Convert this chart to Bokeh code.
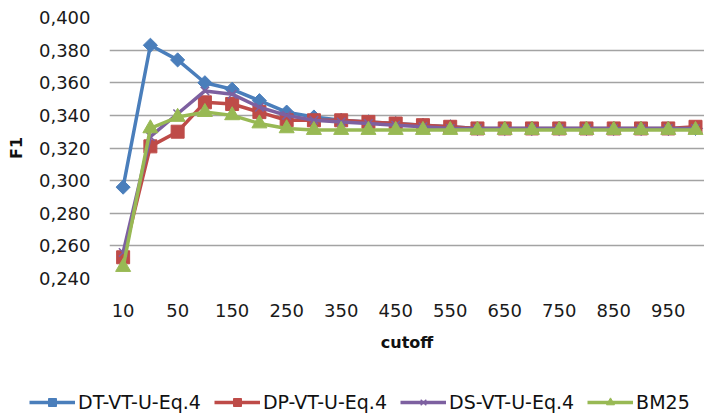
from bokeh.plotting import figure
from bokeh.layouts import column
from bokeh.models import FixedTicker, Legend, LegendItem, Range1d
from bokeh.embed import file_html
from bokeh.resources import INLINE

# ---- data ----
cutoffs = ["10", "30", "50", "100", "150", "200", "250", "300", "350", "400", "450",
           "500", "550", "600", "650", "700", "750", "800", "850", "900", "950", "1000"]
dt_vt = [0.296, 0.383, 0.374, 0.360, 0.356, 0.349, 0.342, 0.339, 0.337, 0.336, 0.335,
         0.334, 0.333, 0.332, 0.332, 0.332, 0.332, 0.332, 0.332, 0.332, 0.332, 0.332]
dp_vt = [0.253, 0.321, 0.330, 0.348, 0.347, 0.342, 0.337, 0.337, 0.337, 0.336, 0.335,
         0.334, 0.333, 0.332, 0.332, 0.332, 0.332, 0.332, 0.332, 0.332, 0.332, 0.333]
ds_vt = [0.256, 0.327, 0.341, 0.355, 0.353, 0.345, 0.340, 0.337, 0.336, 0.335, 0.334,
         0.333, 0.332, 0.332, 0.332, 0.332, 0.332, 0.332, 0.332, 0.332, 0.332, 0.332]
bm25 = [0.247, 0.332, 0.339, 0.342, 0.340, 0.335, 0.332, 0.331, 0.331, 0.331, 0.331,
        0.331, 0.331, 0.331, 0.331, 0.331, 0.331, 0.331, 0.331, 0.331, 0.331, 0.331]
series_names = ["DT-VT-U-Eq.4", "DP-VT-U-Eq.4", "DS-VT-U-Eq.4", "BM25"]
y_ticks = [0.24, 0.26, 0.28, 0.30, 0.32, 0.34, 0.36, 0.38, 0.40]
y_tick_labels = ["0,240", "0,260", "0,280", "0,300", "0,320", "0,340", "0,360", "0,380", "0,400"]

xs = list(range(len(cutoffs)))
FONT = "DejaVu Sans"
colors = ["#4a7ebb", "#be4b48", "#7d60a0", "#98b954"]
markers = ["diamond", "square", "x", "triangle"]
data = [dt_vt, dp_vt, ds_vt, bm25]


def draw_series(fig, ys, c, mk):
    ln = fig.line(xs, ys, line_color=c, line_width=3.5)
    if mk == "diamond":
        sc = fig.scatter(xs, ys, marker="square", angle=0.785398, size=10,
                         fill_color=c, line_color=c)
    elif mk == "square":
        sc = fig.scatter(xs, ys, marker="square", size=13, fill_color=c, line_color=c)
    elif mk == "x":
        sc = fig.scatter(xs, ys, marker="x", size=12, line_color=c, line_width=1.5)
    else:
        sc = fig.scatter(xs, ys, marker="triangle", size=15, fill_color=c, line_color=c)
    return ln, sc


p = figure(width=704, height=372, output_backend="svg", toolbar_location=None,
           x_range=Range1d(-0.5, 21.33), y_range=Range1d(0.24, 0.40),
           min_border_left=109, min_border_right=0, min_border_top=17, min_border_bottom=94)
p.outline_line_color = None
p.frame_align = False

# axes
p.xaxis.ticker = FixedTicker(ticks=xs[::2])
p.xaxis.major_label_overrides = {i: cutoffs[i] for i in xs[::2]}
p.yaxis.ticker = FixedTicker(ticks=y_ticks)
p.yaxis.major_label_overrides = {t: l for t, l in zip(y_ticks, y_tick_labels)}
for ax in (p.xaxis, p.yaxis):
    ax.axis_line_color = None
    ax.major_tick_line_color = None
    ax.minor_tick_line_color = None
    ax.major_tick_out = 0
    ax.major_label_text_font = FONT
    ax.major_label_text_font_size = "18px"
    ax.major_label_text_color = "#1a1a1a"
    ax.axis_label_text_font = FONT
    ax.axis_label_text_font_style = "bold"
    ax.axis_label_text_font_size = "16px"
    ax.axis_label_text_color = "#111111"
p.xaxis.axis_label = "cutoff"
p.yaxis.axis_label = "F1"
p.xaxis.major_label_standoff = 25
p.xaxis.axis_label_standoff = 13
p.yaxis.major_label_standoff = 19
p.yaxis.axis_label_standoff = 10

p.xgrid.grid_line_color = None
p.ygrid.ticker = FixedTicker(ticks=y_ticks)
p.ygrid.grid_line_color = "#a3a3a3"
p.ygrid.grid_line_width = 1.6

for ys, c, mk in zip(data, colors, markers):
    draw_series(p, ys, c, mk)

# legend strip below the chart (same series, drawn out of view; only the legend shows)
lg = figure(width=704, height=42, output_backend="svg", toolbar_location=None,
            x_range=Range1d(-0.5, 21.33), y_range=Range1d(10, 11),
            x_axis_location=None, y_axis_location=None,
            min_border_left=0, min_border_right=0, min_border_top=0, min_border_bottom=0)
lg.outline_line_color = None
lg.grid.visible = False
lg.frame_align = False
items = []
for name, ys, c, mk in zip(series_names, data, colors, markers):
    ln, sc = draw_series(lg, ys, c, mk)
    items.append(LegendItem(label=name, renderers=[ln, sc]))
legend = Legend(items=items, orientation="horizontal", location=(29, 1),
                padding=0, margin=0, spacing=13, glyph_width=46, glyph_height=20,
                label_standoff=3, label_text_font=FONT, label_text_font_size="19px",
                label_text_color="#111111", border_line_color=None,
                background_fill_alpha=0)
lg.add_layout(legend, "center")

layout = column(p, lg, spacing=0)
open("out.html", "w").write(file_html(layout, INLINE))
